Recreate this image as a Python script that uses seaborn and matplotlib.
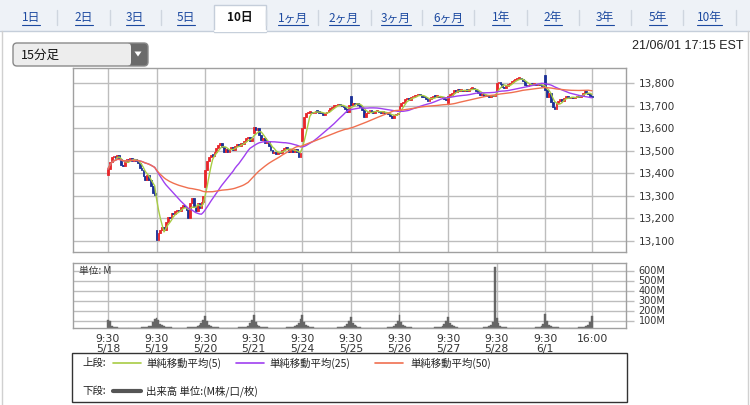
import numpy as np
import pandas as pd
import matplotlib
matplotlib.use("Agg")
import matplotlib.pyplot as plt
import seaborn as sns
from matplotlib.patches import Rectangle, FancyBboxPatch, Polygon

sns.set_theme(style="white")
plt.rcParams['font.family'] = ['DejaVu Sans', 'Noto Sans CJK JP']
JP = ['Noto Sans CJK JP', 'DejaVu Sans']

# ---------------- data ----------------
tab_labels = ['1日', '2日', '3日', '5日', '10日', '1ヶ月', '2ヶ月', '3ヶ月', '6ヶ月',
              '1年', '2年', '3年', '5年', '10年']
selected_tab = '10日'
days = ['5/18', '5/19', '5/20', '5/21', '5/24', '5/25', '5/26', '5/27', '5/28', '6/1']
first_open = [13395, 13150, 13340, 13580, 13545, 13745, 13685, 13712, 13765, 13835]

c_0518 = [13420, 13452, 13472, 13478, 13470, 13482, 13463, 13438, 13433, 13452, 13463, 13460, 13467,
          13457, 13463, 13457, 13445, 13423, 13415, 13389, 13371, 13393, 13371, 13342, 13315, 13305]
c_0519 = [13105, 13134, 13149, 13164, 13149, 13182, 13208, 13201, 13223, 13220, 13231, 13238, 13231,
          13253, 13260, 13253, 13238, 13201, 13268, 13290, 13253, 13231, 13268, 13245, 13275, 13300]
c_0520 = [13415, 13457, 13475, 13482, 13478, 13497, 13512, 13526, 13537, 13519, 13497, 13507, 13497,
          13507, 13519, 13504, 13522, 13531, 13522, 13537, 13531, 13546, 13556, 13563, 13546, 13556]
c_0521 = [13608, 13593, 13600, 13571, 13549, 13556, 13534, 13541, 13522, 13504, 13489, 13497, 13486,
          13497, 13489, 13504, 13512, 13519, 13507, 13497, 13504, 13497, 13507, 13497, 13475, 13489]
c_0524 = [13600, 13652, 13667, 13670, 13674, 13667, 13670, 13679, 13674, 13670, 13667, 13659, 13667,
          13674, 13682, 13689, 13696, 13699, 13704, 13708, 13704, 13699, 13693, 13685, 13674, 13704]
c_0525 = [13705, 13711, 13708, 13714, 13704, 13696, 13682, 13652, 13667, 13674, 13679, 13674, 13670,
          13676, 13679, 13673, 13670, 13674, 13667, 13670, 13662, 13655, 13648, 13659, 13664, 13670]
c_0526 = [13700, 13711, 13719, 13729, 13733, 13726, 13738, 13741, 13744, 13748, 13751, 13747, 13741,
          13738, 13729, 13723, 13729, 13738, 13744, 13741, 13744, 13738, 13741, 13735, 13732, 13726]
c_0527 = [13745, 13748, 13759, 13770, 13763, 13773, 13767, 13770, 13766, 13770, 13767, 13773, 13776,
          13778, 13773, 13767, 13759, 13748, 13753, 13744, 13748, 13744, 13741, 13747, 13744, 13748]
c_0528 = [13800, 13807, 13797, 13782, 13778, 13788, 13797, 13803, 13807, 13815, 13818, 13821, 13822,
          13818, 13812, 13793, 13788, 13793, 13797, 13794, 13797, 13793, 13796, 13793, 13788, 13791]
c_0601 = [13770, 13741, 13756, 13719, 13696, 13685, 13711, 13723, 13729, 13723, 13733, 13744, 13738,
          13733, 13741, 13735, 13738, 13744, 13741, 13748, 13759, 13763, 13759, 13753, 13744, 13738]
closes_by_day = [c_0518, c_0519, c_0520, c_0521, c_0524, c_0525, c_0526, c_0527, c_0528, c_0601]

# volume (M)
v_0518 = [105, 95, 50, 40, 35, 32, 30, 30, 28, 27, 27, 26, 26, 27, 26, 27, 28, 29, 31, 33, 35, 38, 42, 50, 85, 115]
v_0519 = [125, 110, 70, 55, 45, 40, 36, 34, 32, 30, 30, 29, 28, 28, 30, 29, 30, 32, 34, 36, 38, 40, 45, 55, 80, 105]
v_0520 = [150, 95, 60, 48, 40, 36, 33, 31, 30, 29, 28, 28, 27, 27, 28, 28, 29, 30, 31, 33, 35, 37, 40, 48, 75, 110]
v_0521 = [155, 90, 58, 46, 40, 35, 33, 31, 30, 29, 28, 28, 27, 27, 28, 28, 29, 30, 32, 34, 36, 38, 42, 52, 80, 120]
v_0524 = [160, 85, 55, 45, 38, 34, 31, 30, 28, 28, 27, 27, 26, 26, 27, 27, 28, 29, 30, 31, 33, 35, 38, 45, 70, 100]
v_0525 = [135, 80, 52, 42, 36, 32, 30, 29, 28, 27, 27, 26, 26, 26, 27, 27, 28, 28, 29, 30, 32, 34, 37, 44, 68, 95]
v_0526 = [155, 85, 55, 44, 37, 33, 31, 29, 28, 27, 27, 26, 26, 26, 27, 27, 28, 28, 29, 31, 33, 35, 38, 46, 70, 100]
v_0527 = [140, 80, 52, 42, 36, 32, 30, 29, 28, 27, 27, 26, 26, 26, 27, 27, 28, 29, 30, 32, 34, 38, 45, 55, 90, 640]
v_0528 = [130, 75, 50, 40, 35, 32, 30, 29, 28, 27, 27, 26, 26, 26, 26, 27, 27, 28, 28, 29, 30, 31, 32, 34, 45, 70]
v_0601 = [165, 95, 60, 48, 40, 36, 33, 31, 30, 29, 28, 28, 27, 27, 28, 28, 29, 30, 31, 33, 35, 38, 42, 52, 85, 145]
vols_by_day = [v_0518, v_0519, v_0520, v_0521, v_0524, v_0525, v_0526, v_0527, v_0528, v_0601]

price_ticks = [13100, 13200, 13300, 13400, 13500, 13600, 13700, 13800]
vol_ticks = [100, 200, 300, 400, 500, 600]
ma_periods = [5, 25, 50]
ma_colors = ['#a8cc44', '#a040f0', '#f07050']
ma_labels = ['単純移動平均(5)', '単純移動平均(25)', '単純移動平均(50)']

# ---------------- build table ----------------
rows = []
for d, (cl, vl) in enumerate(zip(closes_by_day, vols_by_day)):
    for i, (c, v) in enumerate(zip(cl, vl)):
        rows.append(dict(day=days[d], bar=i, close=c, vol=v,
                         open=first_open[d] if i == 0 else cl[i - 1]))
df = pd.DataFrame(rows)
df['idx'] = np.arange(len(df))
n_per_day = 26
for p in ma_periods:
    df[f'ma{p}'] = df['close'].rolling(p, min_periods=1).mean()

# ---------------- figure ----------------
W, H = 750, 405
fig = plt.figure(figsize=(7.5, 4.05), dpi=100)
fig.patch.set_facecolor('white')

def rect(l, t, r, b):
    return [l / W, 1 - b / H, (r - l) / W, (b - t) / H]

bg = fig.add_axes([0, 0, 1, 1])
bg.set_xlim(0, W); bg.set_ylim(H, 0); bg.axis('off')

# tab bar
bg.add_patch(Rectangle((0, 0), W, 31, facecolor='#eef2f7', edgecolor='none'))
bg.plot([0, W], [31, 31], color='#c5ceda', lw=1)
bg.plot([2, 2], [31, H], color='#d0d0d0', lw=1)
bg.plot([748, 748], [31, H], color='#d0d0d0', lw=1)
tab_x = [31, 84, 135, 186, 240, 293, 344, 396, 448, 501, 553, 605, 658, 709]
sep_x = [57, 110, 161, 266, 318, 371, 422, 474, 527, 579, 631, 683, 736]
bg.add_patch(Rectangle((214, 5), 52, 27, facecolor='white', edgecolor='#c5ceda', lw=1))
bg.plot([214.5, 265.5], [31, 31], color='white', lw=1.5)
for sx in sep_x:
    bg.plot([sx, sx], [10, 25], color='#cfd6df', lw=1)
tab_texts = []
for lab, tx in zip(tab_labels, tab_x):
    sel = lab == selected_tab
    t = bg.text(tx, 18, lab, ha='center', va='center', fontsize=8.5, family=JP,
                color='#111111' if sel else '#1d4aa0', fontweight='bold' if sel else 'normal')
    if not sel:
        tab_texts.append(t)

# dropdown
bg.add_patch(FancyBboxPatch((13, 43), 135, 23, boxstyle='round,pad=0,rounding_size=4',
                            facecolor='#6b6b6b', edgecolor='none'))
bg.add_patch(FancyBboxPatch((13, 43), 118, 23, boxstyle='round,pad=0,rounding_size=4',
                            facecolor='#ededed', edgecolor='none'))
bg.add_patch(Rectangle((122, 43), 6, 23, facecolor='#ededed', edgecolor='none'))
bg.add_patch(FancyBboxPatch((13, 43), 135, 23, boxstyle='round,pad=0,rounding_size=4',
                            facecolor='none', edgecolor='#8a8a8a', lw=1))
bg.add_patch(Polygon([(134.5, 51.5), (141.5, 51.5), (138, 56.5)], closed=True, facecolor='white', edgecolor='none'))
bg.text(21, 55, '15分足', ha='left', va='center', fontsize=9, family=JP, color='#111111')
bg.text(743, 46, '21/06/01 17:15 EST', ha='right', va='center', fontsize=9,
        family=['Liberation Sans', 'DejaVu Sans'], color='#222222')

# legend box
bg.add_patch(Rectangle((72, 353), 555, 49, facecolor='white', edgecolor='#333333', lw=1))
bg.text(82, 363, '上段:', ha='left', va='center', fontsize=7.5, family=JP, color='#222')
leg_line_x = [113, 236, 375]
leg_text_x = [146, 269, 410]
for lx, txx, col, lab in zip(leg_line_x, leg_text_x, ma_colors, ma_labels):
    bg.plot([lx, lx + 28], [363, 363], color=col, lw=1.2)
    bg.text(txx, 363, lab, ha='left', va='center', fontsize=7.5, family=JP, color='#222')
bg.text(82, 391, '下段:', ha='left', va='center', fontsize=7.5, family=JP, color='#222')
bg.plot([113, 141], [391, 391], color='#555555', lw=3)
bg.text(146, 391, '出来高 単位:(M株/口/枚)', ha='left', va='center', fontsize=7.5, family=JP, color='#222')

# ---------------- price panel ----------------
grid_c = '#bdbdbd'
spine_c = '#a0a0a0'
day_pos = [d * n_per_day for d in range(len(days))] + [len(df) - 1]
xlim = (-18.7, 277.2)

ax = fig.add_axes(rect(73, 68, 626, 252))
ax.set_facecolor('white')
ax.set_xlim(*xlim)
ax.set_ylim(13051, 13868)
for p in price_ticks:
    ax.axhline(p, color=grid_c, lw=1, zorder=0)
for xp in day_pos:
    ax.axvline(xp, color=grid_c, lw=1, zorder=0)

up = df['close'] >= df['open']
colors = np.where(up, '#e8262b', '#1b2f96')
bottoms = np.minimum(df['open'], df['close'])
heights = np.maximum((df['close'] - df['open']).abs(), 6)
ax.bar(df['idx'], heights, bottom=bottoms, width=0.95, color=colors, edgecolor=colors,
       linewidth=0.6, zorder=2)
for p, col in zip(ma_periods, ma_colors):
    sns.lineplot(x=df['idx'], y=df[f'ma{p}'], ax=ax, color=col, linewidth=1.0, zorder=3, legend=False)
ax.set_xlabel(''); ax.set_ylabel('')
ax.set_xticks([])
ax.yaxis.tick_right()
ax.set_yticks(price_ticks)
ax.set_yticklabels([f'{p:,}' for p in price_ticks], fontsize=7.5, color='#333333')
ax.tick_params(axis='y', which='both', right=True, length=6, width=1, color=grid_c, pad=3)
for s in ax.spines.values():
    s.set_color(spine_c); s.set_linewidth(1)

# ---------------- volume panel ----------------
axv = fig.add_axes(rect(73, 263, 626, 328))
axv.set_facecolor('white')
axv.set_xlim(*xlim)
axv.set_ylim(25, 675)
for v in vol_ticks:
    axv.axhline(v, color=grid_c, lw=1, zorder=0)
for xp in day_pos:
    axv.axvline(xp, color=grid_c, lw=1, zorder=0)
axv.bar(df['idx'], df['vol'], width=1.0, color='#666666', edgecolor='#666666', linewidth=0.3, zorder=2)
axv.yaxis.tick_right()
axv.set_yticks(vol_ticks)
axv.set_yticklabels([f'{v}M' for v in vol_ticks], fontsize=7, color='#333333')
axv.tick_params(axis='y', right=True, length=6, width=1, color=grid_c, pad=3)
xt_labels = [f'9:30\n{d}' for d in days] + ['16:00']
axv.set_xticks(day_pos)
axv.set_xticklabels(xt_labels, fontsize=7.8, color='#333333', linespacing=1.0)
axv.tick_params(axis='x', length=0, pad=4)
axv.text(0.01, 0.88, '単位: M', transform=axv.transAxes, ha='left', va='center',
         fontsize=7, family=JP, color='#333333')
for s in axv.spines.values():
    s.set_color(spine_c); s.set_linewidth(1)

# underline links in tab bar
fig.canvas.draw()
r = fig.canvas.get_renderer()
for t in tab_texts:
    bb = t.get_window_extent(r)
    yb = H - bb.y0 + 0.5
    bg.plot([bb.x0, bb.x1], [yb, yb], color='#1d4aa0', lw=0.8)

fig.savefig('out.png', dpi=100, facecolor='white')
